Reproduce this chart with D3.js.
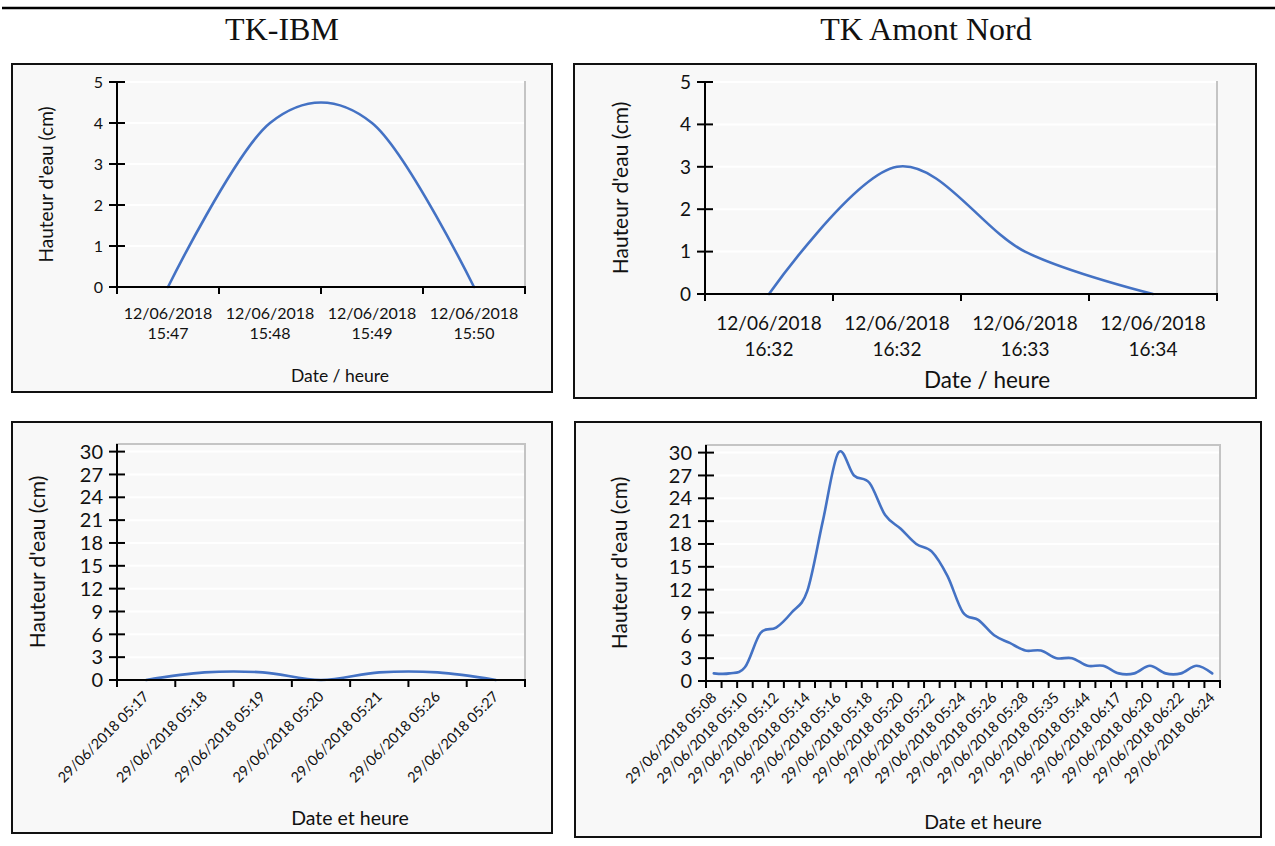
<!DOCTYPE html>
<html><head><meta charset="utf-8">
<script src="https://cdn.jsdelivr.net/npm/d3@7"></script>
<style>
body{margin:0;background:#fff}
svg{display:block}
text{font-family:Lato,"Open Sans",sans-serif;fill:#111}
</style>
</head><body>
<svg id="c" width="1275" height="846"></svg>
<script>
// ---------- DATA ----------
const panelTitles = ["TK-IBM", "TK Amont Nord"];
const yTitle = "Hauteur d'eau (cm)";

const tlDates = ["12/06/2018", "12/06/2018", "12/06/2018", "12/06/2018"];
const tlTimes = ["15:47", "15:48", "15:49", "15:50"];
const tlValues = [0, 4, 4, 0];

const trDates = ["12/06/2018", "12/06/2018", "12/06/2018", "12/06/2018"];
const trTimes = ["16:32", "16:32", "16:33", "16:34"];
const trValues = [0, 3, 1, 0];

const blLabels = ["29/06/2018 05:17", "29/06/2018 05:18", "29/06/2018 05:19", "29/06/2018 05:20",
                  "29/06/2018 05:21", "29/06/2018 05:26", "29/06/2018 05:27"];
const blValues = [0, 1, 1, 0, 1, 1, 0];

// labels shown on every second category
const brLabels = ["29/06/2018 05:08", "29/06/2018 05:10", "29/06/2018 05:12", "29/06/2018 05:14",
                  "29/06/2018 05:16", "29/06/2018 05:18", "29/06/2018 05:20", "29/06/2018 05:22",
                  "29/06/2018 05:24", "29/06/2018 05:26", "29/06/2018 05:28", "29/06/2018 05:35",
                  "29/06/2018 05:44", "29/06/2018 06:17", "29/06/2018 06:20", "29/06/2018 06:22",
                  "29/06/2018 06:24"];
const brValues = [1, 1, 1.8, 6.3, 7, 9, 11.8, 21, 30, 27, 26, 21.8, 20, 18, 17, 13.8, 9, 8, 6, 5,
                  4, 4, 3, 3, 2, 2, 1, 1, 2, 1, 1, 2, 1];

const yTicksTop = [0, 1, 2, 3, 4, 5];
const yTicksBottom = [0, 3, 6, 9, 12, 15, 18, 21, 24, 27, 30];
const xTitleTop = "Date / heure";
const xTitleBottom = "Date et heure";

// ---------- DRAW ----------
const svg = d3.select("#c");
const LINE = "#4472c4";

svg.append("line").attr("x1", 2).attr("x2", 1275).attr("y1", 8).attr("y2", 8)
  .attr("stroke", "#000").attr("stroke-width", 2.5);

[[282, panelTitles[0]], [926, panelTitles[1]]].forEach(([cx, t]) => {
  svg.append("text").attr("x", cx).attr("y", 40).attr("text-anchor", "middle")
    .style("font-family", "'Liberation Serif','Times New Roman',serif").style("font-size", "32px")
    .text(t);
});

function panel(cfg) {
  const g = svg.append("g");
  g.append("rect").attr("x", cfg.box[0]).attr("y", cfg.box[1]).attr("width", cfg.box[2]).attr("height", cfg.box[3])
    .attr("fill", "#f8f8f8").attr("stroke", "#111").attr("stroke-width", 2);

  const n = cfg.values.length;
  const x = d3.scaleBand().domain(d3.range(n)).range([cfg.l, cfg.r]).paddingInner(0).paddingOuter(0);
  const y = d3.scaleLinear().domain([0, cfg.yMax]).range([cfg.b, cfg.t]);
  const bw = x.bandwidth();

  // plot area border
  g.append("rect").attr("x", cfg.l).attr("y", y(cfg.yMax)).attr("width", cfg.r - cfg.l).attr("height", cfg.b - y(cfg.yMax))
    .attr("fill", "#f8f8f8").attr("stroke", "#c4c4c4").attr("stroke-width", 2);

  // gridlines
  g.selectAll(".grid").data(cfg.yTicks.filter(d => d > 0)).join("line")
    .attr("x1", cfg.l + 1).attr("x2", cfg.r - 1).attr("y1", d => y(d)).attr("y2", d => y(d))
    .attr("stroke", "#ffffff").attr("stroke-width", 2);

  // series
  const line = d3.line().x((d, i) => x(i) + bw / 2).y(d => y(d)).curve(d3.curveCardinal.tension(0));
  g.append("path").datum(cfg.values).attr("d", line).attr("fill", "none")
    .attr("stroke", LINE).attr("stroke-width", 2.6).attr("stroke-linejoin", "round").attr("stroke-linecap", "round");

  // axes
  g.append("line").attr("x1", cfg.l).attr("x2", cfg.l).attr("y1", y(cfg.yMax)).attr("y2", cfg.b)
    .attr("stroke", "#000").attr("stroke-width", 2);
  g.append("line").attr("x1", cfg.l - 1).attr("x2", cfg.r + 1).attr("y1", cfg.b).attr("y2", cfg.b)
    .attr("stroke", "#000").attr("stroke-width", 2);

  // y ticks (cross)
  g.selectAll(".yt").data(cfg.yTicks).join("line")
    .attr("x1", cfg.l - 8).attr("x2", cfg.l + 8).attr("y1", d => y(d)).attr("y2", d => y(d))
    .attr("stroke", "#000").attr("stroke-width", 2);
  g.selectAll(".yl").data(cfg.yTicks).join("text")
    .attr("x", cfg.l - 14).attr("y", d => y(d)).attr("dy", "0.36em").attr("text-anchor", "end")
    .style("font-size", cfg.yFont + "px").text(d => d);

  // x ticks at band boundaries
  const bounds = d3.range(n).map(i => x(i)).concat([cfg.r]);
  g.selectAll(".xt").data(bounds).join("line")
    .attr("x1", d => d).attr("x2", d => d).attr("y1", cfg.b).attr("y2", cfg.b + 7)
    .attr("stroke", "#000").attr("stroke-width", 2);

  // x labels
  if (cfg.twoLine) {
    const lab = g.selectAll(".xl").data(cfg.dates).join("text")
      .attr("text-anchor", "middle").style("font-size", cfg.xFont + "px");
    lab.append("tspan").attr("x", (d, i) => x(i) + bw / 2).attr("y", cfg.lab1).text(d => d);
    lab.append("tspan").attr("x", (d, i) => x(i) + bw / 2).attr("y", cfg.lab2).text((d, i) => cfg.times[i]);
  } else {
    g.selectAll(".xl").data(cfg.labels).join("text")
      .attr("text-anchor", "end").style("font-size", cfg.xFont + "px").attr("dy", "0.35em")
      .attr("transform", (d, i) => {
        const idx = i * cfg.labelStep;
        return `translate(${x(idx) + bw / 2},${cfg.b + cfg.labOff}) rotate(-45)`;
      })
      .text(d => d);
  }

  // axis titles
  g.append("text").attr("transform", `translate(${cfg.yTitleX},${(y(cfg.yMax) + cfg.b) / 2}) rotate(-90)`)
    .attr("text-anchor", "middle").attr("dy", "0.35em").style("font-size", cfg.yTitleFont + "px").text(yTitle);
  g.append("text").attr("x", cfg.xTitleX).attr("y", cfg.xTitleY).attr("text-anchor", "middle").attr("dy", "0.35em")
    .style("font-size", cfg.xTitleFont + "px").text(cfg.xTitle);
}

panel({
  box: [12, 64, 540, 328], l: 117, r: 525, t: 82, b: 287, yMax: 5, yTicks: yTicksTop,
  values: tlValues, dates: tlDates, times: tlTimes, twoLine: true,
  yFont: 16, xFont: 16, lab1: 319, lab2: 339, yTitleX: 46, yTitleFont: 19,
  xTitle: xTitleTop, xTitleX: 340, xTitleY: 376, xTitleFont: 17.5
});
panel({
  box: [574, 64, 682, 334], l: 705, r: 1217, t: 82, b: 294, yMax: 5, yTicks: yTicksTop,
  values: trValues, dates: trDates, times: trTimes, twoLine: true,
  yFont: 19, xFont: 19, lab1: 330, lab2: 356, yTitleX: 621, yTitleFont: 21,
  xTitle: xTitleTop, xTitleX: 987, xTitleY: 380, xTitleFont: 22.5
});
panel({
  box: [12, 422, 540, 411], l: 117, r: 525, t: 444, b: 680, yMax: 31, yTicks: yTicksBottom,
  values: blValues, labels: blLabels, labelStep: 1, twoLine: false,
  yFont: 20, xFont: 14.5, labOff: 14, yTitleX: 38, yTitleFont: 21,
  xTitle: xTitleBottom, xTitleX: 350, xTitleY: 818, xTitleFont: 19.5
});
panel({
  box: [575, 422, 686, 415], l: 706, r: 1220, t: 445, b: 681, yMax: 31, yTicks: yTicksBottom,
  values: brValues, labels: brLabels, labelStep: 2, twoLine: false,
  yFont: 20, xFont: 14.5, labOff: 14, yTitleX: 620, yTitleFont: 21,
  xTitle: xTitleBottom, xTitleX: 983, xTitleY: 822, xTitleFont: 19.5
});
</script>
</body></html>
